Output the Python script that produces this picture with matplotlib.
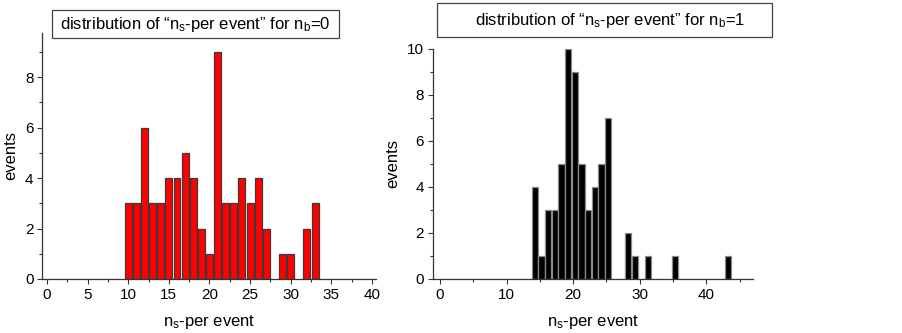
import matplotlib
matplotlib.use("Agg")
import matplotlib.pyplot as plt
from matplotlib.patches import Rectangle
from matplotlib.ticker import MultipleLocator

plt.rcParams['font.family'] = ['Liberation Sans', 'DejaVu Sans']
plt.rcParams['mathtext.fontset'] = 'custom'
plt.rcParams['mathtext.rm'] = 'Liberation Sans'
plt.rcParams['mathtext.it'] = 'Liberation Sans'

# data: n_s-per event values and event counts
ns_b0 = [10, 11, 12, 13, 14, 15, 16, 17, 18, 19, 20, 21, 22, 23, 24, 25, 26, 27, 29, 30, 32, 33]
ev_b0 = [3, 3, 6, 3, 3, 4, 4, 5, 4, 2, 1, 9, 3, 3, 4, 3, 4, 2, 1, 1, 2, 3]

ns_b1 = [14, 15, 16, 17, 18, 19, 20, 21, 22, 23, 24, 25, 28, 29, 31, 35, 43]
ev_b1 = [4, 1, 3, 3, 5, 10, 9, 5, 3, 4, 5, 7, 2, 1, 1, 1, 1]

title_b0 = "distribution of \u201cn$_{\\rm s}$-per event\u201d for n$_{\\rm b}$=0"
title_b1 = "distribution of \u201cn$_{\\rm s}$-per event\u201d for n$_{\\rm b}$=1"
xlabel = "n$_{\\rm s}$-per event"
ylabel = "events"

W, H = 903, 333
fig = plt.figure(figsize=(W / 100, H / 100), dpi=100)

def fx(px):
    return px / W

def fy(py):
    return 1 - py / H

spine_col = '#333333'
fs_tick = 11
fs_lab = 12
fs_title = 12

def style(ax):
    for s in ['top', 'right']:
        ax.spines[s].set_visible(False)
    for s in ['left', 'bottom']:
        ax.spines[s].set_color(spine_col)
        ax.spines[s].set_linewidth(0.9)
    ax.tick_params(which='both', direction='out', color=spine_col, labelsize=fs_tick, width=0.8)
    ax.tick_params(which='major', length=3.5, pad=3)
    ax.tick_params(which='minor', length=2.2)

# Left panel
ax1 = fig.add_axes([fx(42.5), fy(279), fx(376 - 42.5), (279 - 33) / H])
ax1.bar(ns_b0, ev_b0, width=0.85, color='#ff0000', edgecolor='#3a3a3a', linewidth=0.9)
ax1.set_xlim(-0.55, 40.5)
ax1.set_ylim(0, 9.75)
ax1.xaxis.set_major_locator(MultipleLocator(5))
ax1.xaxis.set_minor_locator(MultipleLocator(2.5))
ax1.yaxis.set_major_locator(MultipleLocator(2))
ax1.yaxis.set_minor_locator(MultipleLocator(1))
style(ax1)
ax1.set_xlabel(xlabel, fontsize=fs_lab, labelpad=8)
ax1.set_ylabel(ylabel, fontsize=fs_lab, labelpad=5)

# Right panel
ax2 = fig.add_axes([fx(433), fy(279), fx(753 - 433), (279 - 49) / H])
ax2.bar([n + 0.25 for n in ns_b1], ev_b1, width=0.95, color='#000000', edgecolor='#8a8a8a', linewidth=0.9)
ax2.set_xlim(-1.05, 47)
ax2.set_ylim(0, 10)
ax2.xaxis.set_major_locator(MultipleLocator(10))
ax2.xaxis.set_minor_locator(MultipleLocator(5))
ax2.yaxis.set_major_locator(MultipleLocator(2))
ax2.yaxis.set_minor_locator(MultipleLocator(1))
style(ax2)
ax2.set_xlabel(xlabel, fontsize=fs_lab, labelpad=8)
ax2.set_ylabel(ylabel, fontsize=fs_lab, labelpad=5)

# Title boxes
def title_box(x0, y0, x1, y1, text, tx):
    fig.patches.append(Rectangle((fx(x0), fy(y1)), fx(x1 - x0), (y1 - y0) / H,
                                 transform=fig.transFigure, facecolor='white',
                                 edgecolor='#444444', linewidth=0.9))
    fig.text(fx(tx), fy((y0 + y1) / 2), text, ha='center', va='center', fontsize=fs_title)

title_box(52, 10, 339, 38, title_b0, 195)
title_box(437, 3, 772, 37, title_b1, 610)

fig.savefig("out.png", dpi=100)
